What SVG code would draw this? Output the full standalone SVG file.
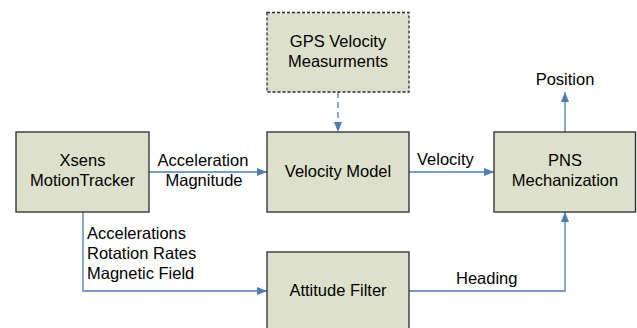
<svg xmlns="http://www.w3.org/2000/svg" width="637" height="328" viewBox="0 0 637 328">
<defs>
<style>
.box{fill:#dde0cb;stroke:#2a2a2a;stroke-width:1.3}
.dash{stroke-dasharray:3,2}
.t{font-family:"Liberation Sans",Arial,sans-serif;font-size:16.5px;fill:#000}
.c{text-anchor:middle}
.ln{fill:none;stroke:#4a7ebb;stroke-width:1.3}
</style>
<marker id="ah" viewBox="0 0 10 10" refX="10" refY="5" markerWidth="10" markerHeight="10" markerUnits="userSpaceOnUse" orient="auto">
<path d="M0,1 L10,5 L0,9 z" fill="#4a7ebb"/>
</marker>
</defs>
<rect width="637" height="328" fill="#fff"/>
<g id="connectors">
<line class="ln" x1="149" y1="172" x2="267" y2="172" marker-end="url(#ah)"/>
<line class="ln" x1="409" y1="172" x2="494" y2="172" marker-end="url(#ah)"/>
<line class="ln" x1="338" y1="92" x2="338" y2="132" stroke-dasharray="6,4" marker-end="url(#ah)"/>
<line class="ln" x1="565" y1="132" x2="565" y2="92" marker-end="url(#ah)"/>
<polyline class="ln" points="83,212 83,291 267,291" marker-end="url(#ah)"/>
<polyline class="ln" points="409,291 565,291 565,212" marker-end="url(#ah)"/>
<text class="t c" x="203" y="166">Acceleration</text>
<text class="t c" x="204" y="186">Magnitude</text>
<text class="t" x="417" y="165">Velocity</text>
<text class="t c" x="565" y="85">Position</text>
<text class="t" x="87" y="239">Accelerations</text>
<text class="t" x="87" y="259">Rotation Rates</text>
<text class="t" x="87" y="279">Magnetic Field</text>
<text class="t" x="456" y="284">Heading</text>
</g>
<g id="gps">
<rect class="box dash" x="267" y="12.5" width="142" height="79.5"/>
<text class="t c" x="338" y="47">GPS Velocity</text>
<text class="t c" x="338" y="67">Measurments</text>
</g>
<g id="xsens">
<rect class="box" x="16" y="132" width="133" height="80"/>
<text class="t c" x="82.5" y="166">Xsens</text>
<text class="t c" x="82.5" y="186">MotionTracker</text>
</g>
<g id="velocity-model">
<rect class="box" x="267" y="132" width="142" height="80"/>
<text class="t c" x="338" y="177">Velocity Model</text>
</g>
<g id="pns">
<rect class="box" x="494" y="132" width="141.5" height="80"/>
<text class="t c" x="565" y="166">PNS</text>
<text class="t c" x="565" y="186">Mechanization</text>
</g>
<g id="attitude-filter">
<rect class="box" x="267" y="252" width="142" height="80"/>
<text class="t c" x="338" y="296">Attitude Filter</text>
</g>
</svg>
